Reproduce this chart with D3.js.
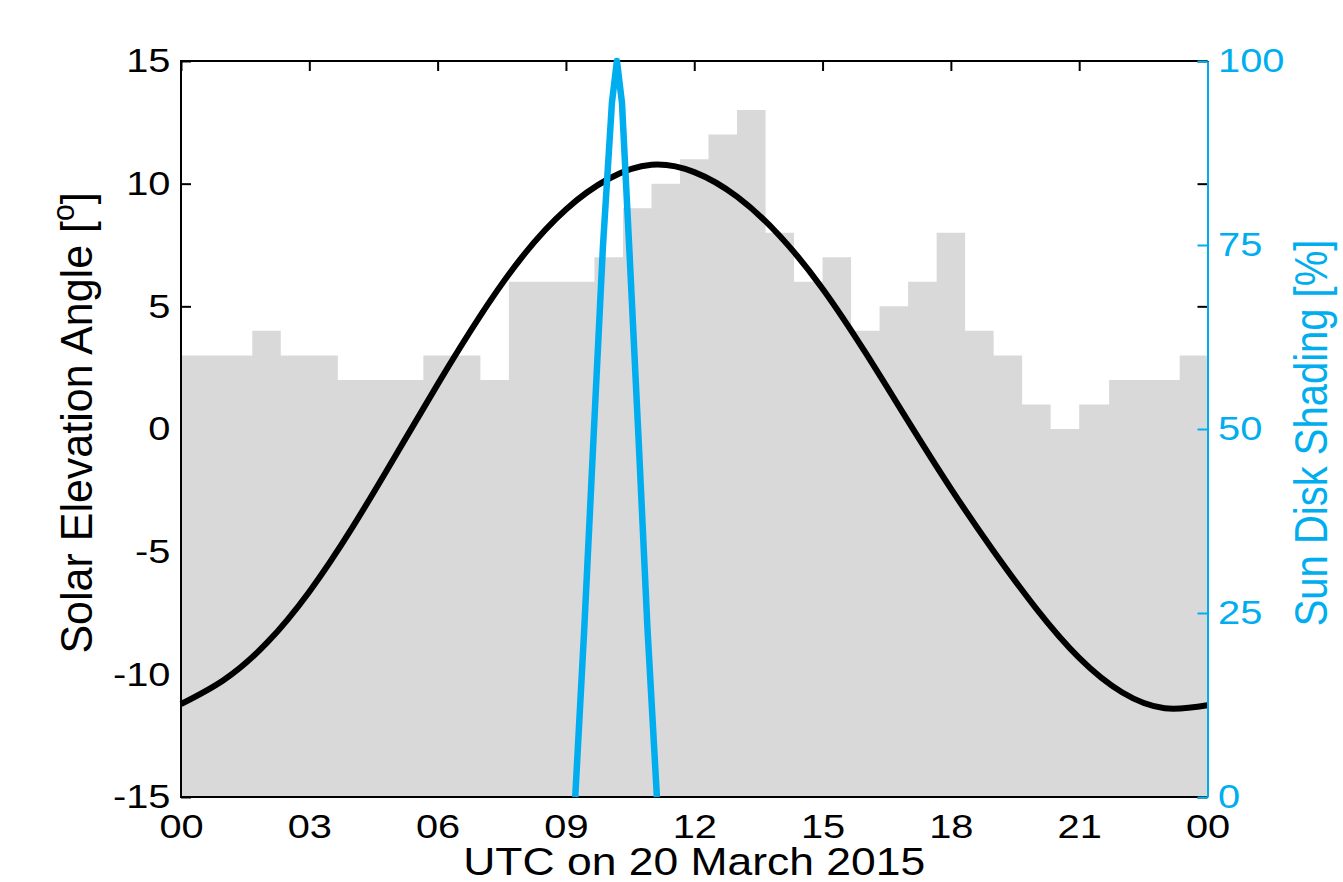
<!DOCTYPE html>
<html>
<head>
<meta charset="UTF-8">
<title>Solar elevation and sun disk shading</title>
<script src="https://d3js.org/d3.v7.min.js"></script>
<style>
  body { margin: 0; background: #fff; }
  svg text { font-family: "Liberation Sans", Arial, sans-serif; }
</style>
</head>
<body>
<svg id="chart"></svg>
<script>
// grey steps: start hour of each step and its level (left axis units)
var barStart = [0, 1.667, 2.333, 3.667, 5.667, 7.0, 7.667, 9.667, 10.333, 11.0, 11.667, 12.333,
                13.0, 13.667, 14.333, 15.0, 15.667, 16.333, 17.0, 17.667, 18.333, 19.0, 19.667,
                20.333, 21.0, 21.7, 23.35];
var barLevel = [3, 4, 3, 2, 3, 2, 6, 7, 9, 10, 11, 12, 13, 8, 6, 7, 4, 5, 6, 8, 4, 3, 1, 0, 1, 2, 3];

// solar elevation angle (deg)
var elevHour = [0, 1, 2, 3, 4, 5, 6, 7, 8, 9, 10, 11, 12, 13, 14, 15, 16, 17, 18, 19, 20, 21, 22, 23, 24];
var elevDeg = [-11.21, -10.23, -8.73, -6.63, -4.03, -1.13, 1.82, 4.62, 7.07, 8.95, 10.2, 10.77,
               10.47, 9.47, 7.87, 5.72, 3.12, 0.32, -2.43, -4.98, -7.33, -9.33, -10.73, -11.38, -11.26];

// sun disk shading (%) during the eclipse
var shadeHour = [9.217, 9.428, 9.645, 9.865, 10.075, 10.192, 10.31, 10.479, 10.697, 10.907, 11.127];
var shadePct = [0, 22.8, 48.8, 74.8, 94.3, 100, 94.3, 74.8, 48.8, 22.8, 0];

var hourTicks = [0, 3, 6, 9, 12, 15, 18, 21, 24];
var elevTicks = [-15, -10, -5, 0, 5, 10, 15];
var shadeTicks = [0, 25, 50, 75, 100];

var W = 1343, H = 882;
var pLeft = 181, pRight = 1207.5, pTop = 61, pBottom = 797;
var blue = "#00aeef", grey = "#d9d9d9";
var stretch = "scale(1.17,1)";

var svg = d3.select("#chart").attr("width", W).attr("height", H);
svg.append("rect").attr("width", W).attr("height", H).attr("fill", "#fff");

var x = d3.scaleLinear().domain([0, 24]).range([pLeft, pRight]);
var y = d3.scaleLinear().domain([-15, 15]).range([pBottom, pTop]);
var yr = d3.scaleLinear().domain([0, 100]).range([pBottom, pTop]);

function styleAxis(g, color) {
    g.select(".domain").remove();
    g.selectAll(".tick line").attr("stroke", color).attr("stroke-width", 2);
    g.selectAll(".tick text").attr("fill", color).style("font-size", "34px")
        .attr("transform", stretch);
}

// ticks first, so the grey steps cover them like in the original
svg.append("g").attr("transform", "translate(" + pLeft + ",0)")
    .call(d3.axisLeft(y).tickValues(elevTicks).tickSize(-10).tickPadding(9)
        .tickFormat(function (d) { return String(d); }))
    .call(styleAxis, "#000");
svg.append("g").attr("transform", "translate(" + pRight + ",0)")
    .call(d3.axisRight(y).tickValues(elevTicks).tickSize(-10).tickFormat(""))
    .call(styleAxis, "#000");
svg.append("g").attr("transform", "translate(0," + pBottom + ")")
    .call(d3.axisBottom(x).tickValues(hourTicks).tickSize(-10).tickPadding(17)
        .tickFormat(function (d) { return d3.format("02d")(d % 24); }))
    .call(styleAxis, "#000");
svg.append("g").attr("transform", "translate(0," + pTop + ")")
    .call(d3.axisTop(x).tickValues(hourTicks).tickSize(-10).tickFormat(""))
    .call(styleAxis, "#000");

// grey steps
var steps = barStart.map(function (h, i) { return {h: h, v: barLevel[i]}; });
steps.push({h: 24, v: barLevel[barLevel.length - 1]});
svg.append("path").datum(steps)
    .attr("fill", grey)
    .attr("d", d3.area().curve(d3.curveStepAfter)
        .x(function (d) { return x(d.h); })
        .y0(y(-15))
        .y1(function (d) { return y(d.v); }));

// solar elevation
var elev = elevHour.map(function (h, i) { return {h: h, v: elevDeg[i]}; });
svg.append("path").datum(elev)
    .attr("fill", "none").attr("stroke", "#000").attr("stroke-width", 6)
    .attr("d", d3.line().curve(d3.curveNatural)
        .x(function (d) { return x(d.h); })
        .y(function (d) { return y(d.v); }));

// frame
svg.append("path").attr("fill", "none").attr("stroke", "#000").attr("stroke-width", 2)
    .attr("d", "M" + pRight + "," + pTop + "H" + pLeft + "V" + pBottom + "H" + pRight);

// right axis (shading)
svg.append("g").attr("transform", "translate(" + pRight + ",0)")
    .call(d3.axisRight(yr).tickValues(shadeTicks).tickSizeInner(-10).tickSizeOuter(0).tickPadding(9))
    .call(function (g) {
        g.select(".domain").attr("stroke", blue).attr("stroke-width", 2);
        g.selectAll(".tick line").attr("stroke", blue).attr("stroke-width", 2);
        g.selectAll(".tick text").attr("fill", blue).style("font-size", "34px")
            .attr("transform", stretch);
    });

// sun disk shading
var shade = shadeHour.map(function (h, i) { return {h: h, v: shadePct[i]}; });
svg.append("path").datum(shade)
    .attr("fill", "none").attr("stroke", blue).attr("stroke-width", 6.5)
    .attr("stroke-linejoin", "round")
    .attr("d", d3.line()
        .x(function (d) { return x(d.h); })
        .y(function (d) { return yr(d.v); }));

// axis labels
svg.append("text")
    .attr("transform", "translate(" + ((pLeft + pRight) / 2) + ",875) " + stretch)
    .attr("text-anchor", "middle").style("font-size", "38px")
    .text("UTC on 20 March 2015");

var yl = svg.append("text")
    .attr("transform", "translate(92," + ((pTop + pBottom) / 2 - 6) + ") scale(1.05,1) rotate(-90)")
    .attr("text-anchor", "middle").style("font-size", "43px");
yl.append("tspan").text("Solar Elevation Angle [");
yl.append("tspan").attr("dy", -17).style("font-size", "30px").text("o");
yl.append("tspan").attr("dy", 17).text("]");

svg.append("text")
    .attr("transform", "translate(1327," + ((pTop + pBottom) / 2 + 4) + ") " + stretch + " rotate(-90)")
    .attr("text-anchor", "middle").attr("fill", blue).style("font-size", "40px")
    .text("Sun Disk Shading [%]");
</script>
</body>
</html>
